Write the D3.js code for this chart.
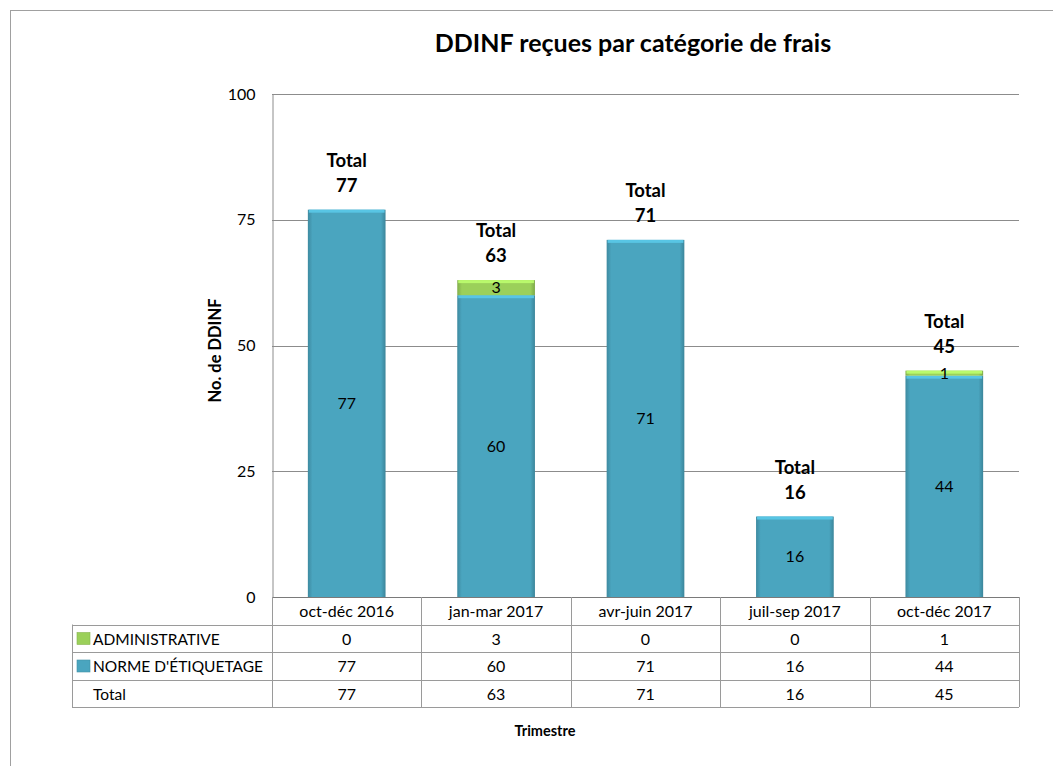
<!DOCTYPE html>
<html>
<head>
<meta charset="utf-8">
<script src="https://d3js.org/d3.v7.min.js"></script>
<style>
  body { margin: 0; background: #fff; font-family: Lato, "Open Sans", sans-serif; }
</style>
</head>
<body>
<div id="chart"></div>
<script>
// data
const categories = ["oct-déc 2016", "jan-mar 2017", "avr-juin 2017", "juil-sep 2017", "oct-déc 2017"];
const seriesNames = ["ADMINISTRATIVE", "NORME D'ÉTIQUETAGE"];
const adminValues = [0, 3, 0, 0, 1];
const normeValues = [77, 60, 71, 16, 44];
const yTicks = [0, 25, 50, 75, 100];

const W = 1053, H = 766;
const plot = { left: 272, right: 1019, top: 94, bottom: 597 };
const rowH = 27.5;
const colorNorme = "#4aa5bf", colorAdmin = "#9bd05a";

const svg = d3.select("#chart").append("svg")
  .attr("width", W).attr("height", H)
  .style("font-family", "Lato, 'Open Sans', sans-serif");

// outer frame
svg.append("rect")
  .attr("x", 10.5).attr("y", 10.5).attr("width", W + 20).attr("height", H + 20)
  .attr("fill", "none").attr("stroke", "#a0a0a0");

// gradients for the bevelled bars
const defs = svg.append("defs");
function makeGrad(id, base) {
  const c = d3.color(base);
  const g = defs.append("linearGradient").attr("id", id)
    .attr("x1", "0%").attr("x2", "100%").attr("y1", "0%").attr("y2", "0%");
  g.append("stop").attr("offset", "0%").attr("stop-color", c.darker(0.5));
  g.append("stop").attr("offset", "6%").attr("stop-color", base);
  g.append("stop").attr("offset", "94%").attr("stop-color", base);
  g.append("stop").attr("offset", "100%").attr("stop-color", c.darker(0.6));
}
makeGrad("gNorme", colorNorme);
makeGrad("gAdmin", colorAdmin);

// title
svg.append("text")
  .attr("x", 633).attr("y", 52)
  .attr("text-anchor", "middle")
  .style("font-size", "25px").style("font-weight", "bold")
  .text("DDINF reçues par catégorie de frais");

// scales
const x = d3.scaleBand().domain(categories).range([plot.left, plot.right]).padding(0);
const y = d3.scaleLinear().domain([0, 100]).range([plot.bottom, plot.top]);
const barW = x.bandwidth() * 0.52;

// gridlines
svg.append("g").selectAll("line").data(yTicks.filter(d => d > 0)).join("line")
  .attr("x1", plot.left).attr("x2", plot.right)
  .attr("y1", d => Math.round(y(d)) + 0.5).attr("y2", d => Math.round(y(d)) + 0.5)
  .attr("stroke", "#8c8c8c");

// y axis
const yAxis = svg.append("g")
  .attr("transform", `translate(${plot.left + 0.5},0)`)
  .call(d3.axisLeft(y).tickValues(yTicks).tickSize(0).tickPadding(17));
yAxis.select(".domain").attr("stroke", "#8c8c8c");
yAxis.selectAll("text").style("font-size", "16px").style("font-family", "Lato, 'Open Sans', sans-serif").attr("fill", "#000");

svg.append("text")
  .attr("transform", `translate(221,${(plot.top + plot.bottom) / 2 + 5}) rotate(-90)`)
  .attr("text-anchor", "middle")
  .style("font-size", "16.5px").style("font-weight", "bold")
  .text("No. de DDINF");

// stacked data
const rows = categories.map((c, i) => ({ cat: c, admin: adminValues[i], norme: normeValues[i] }));
const stack = d3.stack().keys(["norme", "admin"])(rows);
const fills = { norme: "url(#gNorme)", admin: "url(#gAdmin)" };
const bases = { norme: colorNorme, admin: colorAdmin };

stack.forEach(layer => {
  const g = svg.append("g");
  const segs = layer.filter(d => d[1] - d[0] > 0);
  g.selectAll("rect.bar").data(segs).join("rect")
    .attr("class", "bar")
    .attr("x", d => x(d.data.cat) + (x.bandwidth() - barW) / 2)
    .attr("y", d => y(d[1]))
    .attr("width", barW)
    .attr("height", d => y(d[0]) - y(d[1]))
    .attr("fill", fills[layer.key]);
  // top highlight
  g.selectAll("rect.hl").data(segs).join("rect")
    .attr("class", "hl")
    .attr("x", d => x(d.data.cat) + (x.bandwidth() - barW) / 2 + 1)
    .attr("y", d => y(d[1]))
    .attr("width", barW - 2)
    .attr("height", 3)
    .attr("fill", d3.color(bases[layer.key]).brighter(0.5));
  g.selectAll("text").data(segs).join("text")
    .attr("x", d => x(d.data.cat) + x.bandwidth() / 2)
    .attr("y", d => (y(d[0]) + y(d[1])) / 2 + 5.5)
    .attr("text-anchor", "middle")
    .style("font-size", "16px")
    .text(d => d[1] - d[0]);
});

// total labels
const totals = rows.map(r => ({ cat: r.cat, total: r.admin + r.norme }));
const tl = svg.append("g").selectAll("text").data(totals).join("text")
  .attr("text-anchor", "middle")
  .style("font-size", "18.5px").style("font-weight", "bold");
tl.append("tspan")
  .attr("x", d => x(d.cat) + x.bandwidth() / 2)
  .attr("y", d => y(d.total) - 43)
  .text("Total");
tl.append("tspan")
  .attr("x", d => x(d.cat) + x.bandwidth() / 2)
  .attr("y", d => y(d.total) - 18)
  .text(d => d.total);

// data table
const tbl = svg.append("g");
const tLeft = 72, tTop = plot.bottom;
const lineColor = "#9a9a9a";
const tableRows = [
  { label: seriesNames[0], vals: adminValues, color: colorAdmin },
  { label: seriesNames[1], vals: normeValues, color: colorNorme },
  { label: "Total", vals: totals.map(d => d.total), color: null }
];
// header row (categories)
tbl.selectAll("text.cat").data(categories).join("text")
  .attr("class", "cat")
  .attr("x", d => x(d) + x.bandwidth() / 2)
  .attr("y", tTop + 20)
  .attr("text-anchor", "middle")
  .style("font-size", "16px")
  .text(d => d);
// horizontal lines
const hLines = [0, 1, 2, 3, 4].map(i => tTop + i * rowH);
tbl.selectAll("line.h").data(hLines).join("line")
  .attr("class", "h")
  .attr("x1", (d, i) => i === 0 ? plot.left : tLeft).attr("x2", plot.right)
  .attr("y1", d => Math.round(d) + 0.5).attr("y2", d => Math.round(d) + 0.5)
  .attr("stroke", (d, i) => i === 0 ? "#7a7a7a" : lineColor);
// vertical lines
const vX = [plot.left].concat(categories.map(c => x(c) + x.bandwidth()));
tbl.selectAll("line.v").data(vX).join("line")
  .attr("class", "v")
  .attr("x1", d => Math.round(d) + 0.5).attr("x2", d => Math.round(d) + 0.5)
  .attr("y1", tTop).attr("y2", tTop + 4 * rowH)
  .attr("stroke", lineColor);
tbl.append("line")
  .attr("x1", tLeft + 0.5).attr("x2", tLeft + 0.5)
  .attr("y1", tTop + rowH).attr("y2", tTop + 4 * rowH)
  .attr("stroke", lineColor);

tableRows.forEach((r, ri) => {
  const ry = tTop + (ri + 1) * rowH;
  if (r.color) {
    tbl.append("rect")
      .attr("x", tLeft + 5).attr("y", ry + 8).attr("width", 13).attr("height", 12)
      .attr("fill", r.color).attr("stroke", d3.color(r.color).darker(0.4)).attr("stroke-width", 0.6);
  }
  tbl.append("text")
    .attr("x", tLeft + 21).attr("y", ry + 20)
    .style("font-size", "15.5px")
    .text(r.label);
  tbl.selectAll(null).data(r.vals).join("text")
    .attr("x", (d, i) => x(categories[i]) + x.bandwidth() / 2)
    .attr("y", ry + 20)
    .attr("text-anchor", "middle")
    .style("font-size", "16px")
    .text(d => d);
});

// x axis title
svg.append("text")
  .attr("x", 545).attr("y", 736)
  .attr("text-anchor", "middle")
  .style("font-size", "14.5px").style("font-weight", "bold")
  .text("Trimestre");
</script>
</body>
</html>
